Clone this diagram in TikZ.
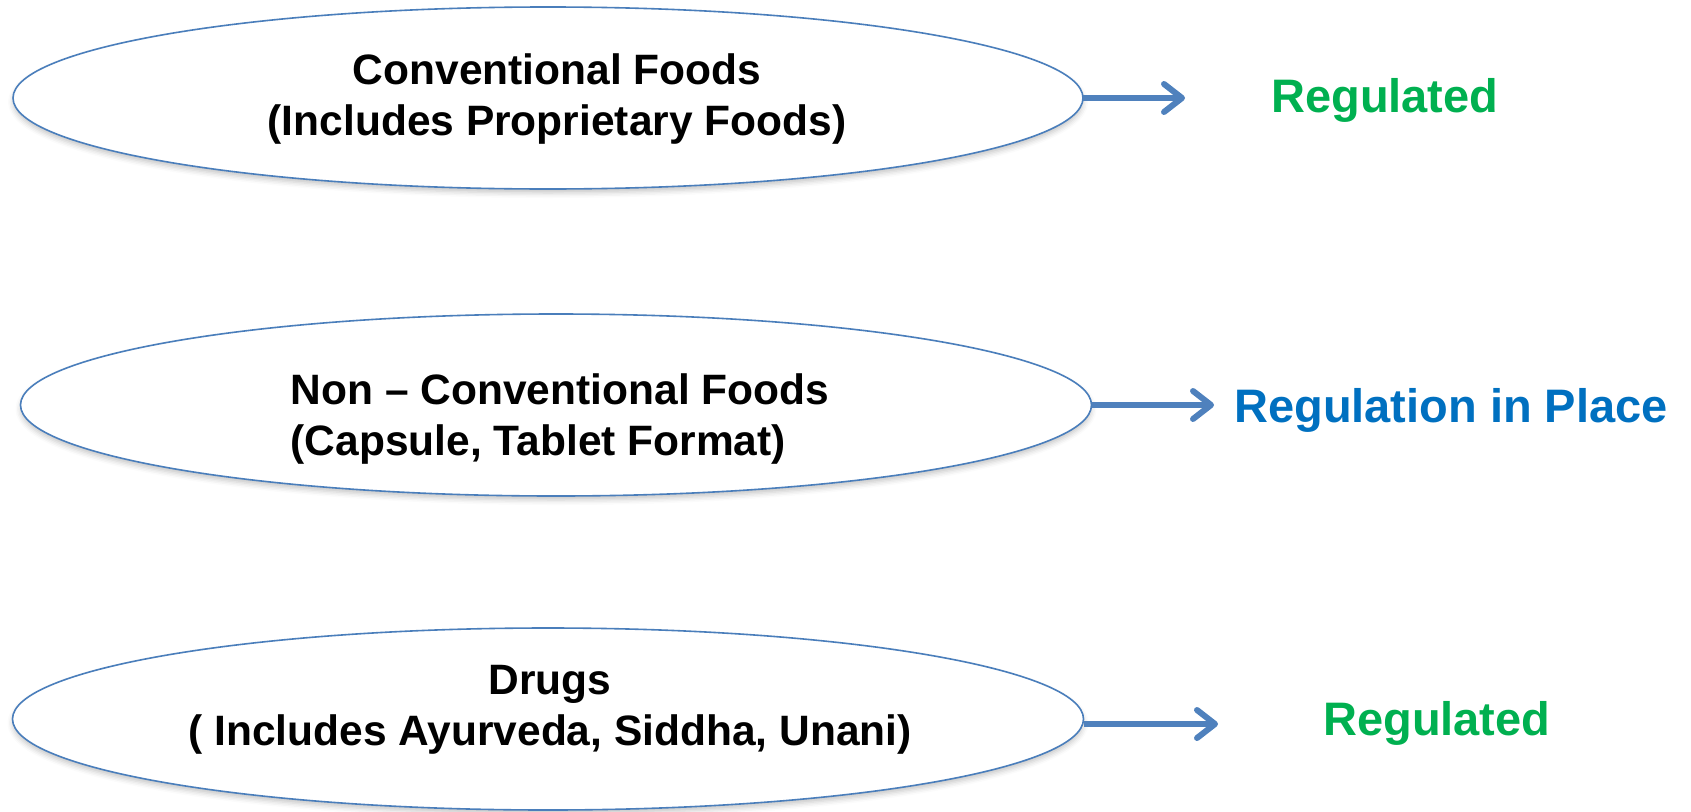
\documentclass[tikz,border=0pt]{standalone}
\usepackage{fontspec}
\setmainfont{Liberation Sans}
\usetikzlibrary{shapes.geometric,arrows.meta,shadows.blur}
\definecolor{edgeblue}{HTML}{4A7EBB}
\definecolor{arrowblue}{HTML}{4F81BD}
\definecolor{okgreen}{HTML}{00B050}
\definecolor{placeblue}{HTML}{0070C0}
\tikzset{
  category/.style={ellipse, draw=edgeblue, line width=1.6pt, fill=white,
    inner sep=0pt, outer sep=0pt,
    blur shadow={shadow xshift=0pt, shadow yshift=-4pt,
      shadow blur radius=5pt, shadow opacity=22}},
  boxtext/.style={font=\bfseries\fontsize{42.5}{51}\selectfont, inner sep=0pt},
  status/.style={font=\bfseries\fontsize{47}{56}\selectfont, inner sep=0pt, anchor=base west},
  flow/.style={draw=arrowblue, line width=6pt,
    -{Straight Barb[length=18pt, width=28pt, round]}}
}
\begin{document}
\begin{tikzpicture}[x=1pt, y=-1pt]
  \useasboundingbox (0,0) rectangle (1691,811);

  % the three product categories
  \node[category, minimum width=1070pt, minimum height=182pt] (e1) at (548,98) {};
  \node[category, minimum width=1071pt, minimum height=182pt] (e2) at (556,405) {};
  \node[category, minimum width=1071pt, minimum height=182pt] (e3) at (548,719) {};

  \node[boxtext, align=center] (t1) at (557,99)
    {Conventional Foods\\(Includes Proprietary Foods)};
  \node[boxtext, align=left] (t2) at (560,419)
    {Non -- Conventional Foods\\(Capsule, Tablet Format)};
  \node[boxtext, align=center] (t3) at (550,710)
    {Drugs\\( Includes Ayurveda, Siddha, Unani)};

  % regulatory status of each category
  \coordinate (a1) at (1185,98);
  \coordinate (a2) at (1214,405);
  \coordinate (a3) at (1218,724);
  \draw[flow] (e1.east) -- (a1);
  \draw[flow] (e2.east) -- (a2);
  \draw[flow] ([yshift=-5pt]e3.east) -- (a3);

  \node[status, text=okgreen] (s1) at (1271,112) {Regulated};
  \node[status, text=placeblue] (s2) at (1234,422) {Regulation in Place};
  \node[status, text=okgreen] (s3) at (1323,735) {Regulated};
\end{tikzpicture}
\end{document}
